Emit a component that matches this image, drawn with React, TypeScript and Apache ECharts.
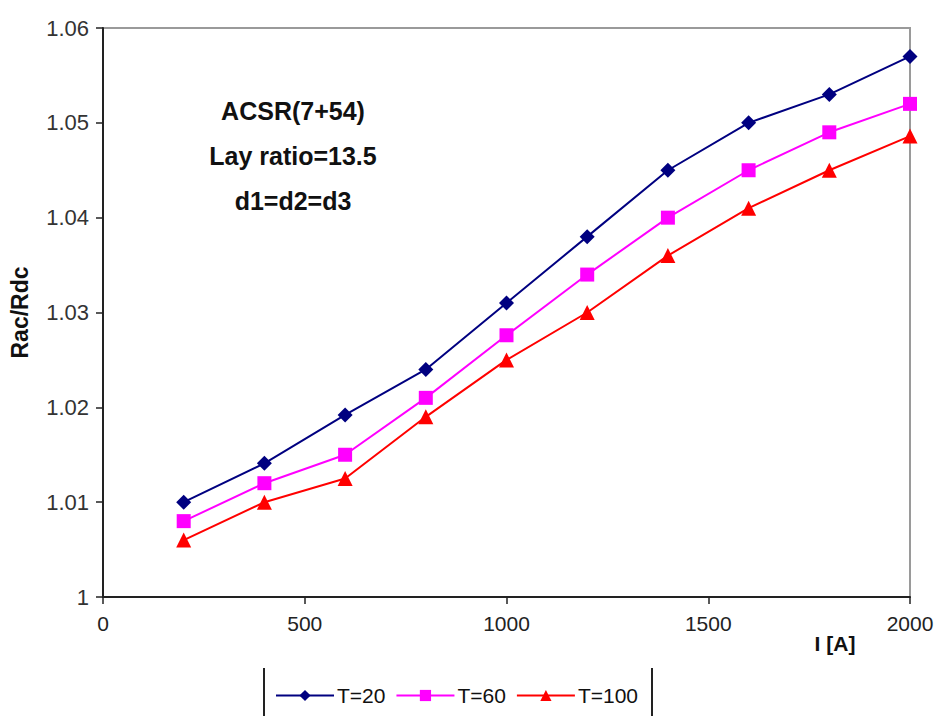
import React, { useEffect, useRef } from "react";
import * as echarts from "echarts";

const currents = [200, 400, 600, 800, 1000, 1200, 1400, 1600, 1800, 2000];
const t20 = [1.010, 1.0141, 1.0192, 1.024, 1.031, 1.038, 1.045, 1.050, 1.053, 1.057];
const t60 = [1.008, 1.012, 1.015, 1.021, 1.0276, 1.034, 1.040, 1.045, 1.049, 1.052];
const t100 = [1.006, 1.010, 1.0125, 1.019, 1.025, 1.030, 1.036, 1.041, 1.045, 1.0486];
const seriesNames = ["T=20", "T=60", "T=100"];
const annotationLines = ["ACSR(7+54)", "Lay ratio=13.5", "d1=d2=d3"];

const sans = "Liberation Sans, Arial, sans-serif";

export default function App() {
  const ref = useRef<HTMLDivElement>(null);
  useEffect(() => {
    if (!ref.current) return;
    const chart = echarts.init(ref.current, null, { renderer: "svg" });
    const mk = (vals: number[]) => currents.map((c, i) => [c, vals[i]]);
    chart.setOption({
      animation: false,
      backgroundColor: "#fff",
      grid: {
        left: 98, right: 28, top: 28, bottom: 119,
        show: true, borderColor: "#9a9a9a", borderWidth: 2, backgroundColor: "transparent",
      },
      xAxis: {
        type: "value", min: 0, max: 2000, interval: 500,
        axisLine: { lineStyle: { color: "#222", width: 2 } },
        axisTick: { show: true, inside: false, length: 7, lineStyle: { color: "#222", width: 1.5 } },
        splitLine: { show: false },
        axisLabel: {
          color: "#222", fontSize: 21, fontFamily: sans, margin: 16,
          formatter: (v: number) => String(v),
        },
        name: "I [A]", nameLocation: "end", nameGap: 0,
        nameTextStyle: {
          fontSize: 21, fontFamily: sans, color: "#111", fontWeight: "bold",
          align: "center", verticalAlign: "top", padding: [36, 150, 0, 0],
        },
      },
      yAxis: {
        type: "value", min: 1, max: 1.06, interval: 0.01,
        axisLine: { show: true, lineStyle: { color: "#222", width: 2 } },
        axisTick: { show: true, inside: false, length: 7, lineStyle: { color: "#222", width: 1.5 } },
        splitLine: { show: false },
        axisLabel: {
          color: "#333", fontSize: 22, fontFamily: sans, margin: 14,
          formatter: (v: number) => String(parseFloat(v.toFixed(2))),
        },
        name: "Rac/Rdc", nameLocation: "middle", nameGap: 72, nameRotate: 90,
        nameTextStyle: { fontSize: 23, fontWeight: "bold", color: "#111", fontFamily: sans },
      },
      legend: {
        left: 270, top: 680, itemWidth: 58, itemHeight: 14, itemGap: 10,
        textStyle: { fontSize: 21, fontFamily: sans, color: "#111", padding: [0, 0, 0, -2] },
        data: seriesNames,
      },
      graphic: [
        { type: "line", shape: { x1: 264, y1: 668, x2: 264, y2: 716 }, style: { stroke: "#222", lineWidth: 2 } },
        { type: "line", shape: { x1: 652, y1: 668, x2: 652, y2: 716 }, style: { stroke: "#222", lineWidth: 2 } },
        {
          type: "text", x: 293, y: 88,
          style: {
            text: annotationLines.join("\n"), fontSize: 25, fontWeight: "bold", lineHeight: 45,
            fontFamily: sans, fill: "#111", align: "center", verticalAlign: "top",
          },
        },
      ],
      series: [
        {
          name: seriesNames[0], type: "line", data: mk(t20), symbol: "diamond", symbolSize: 15,
          itemStyle: { color: "#000080" }, lineStyle: { color: "#000080", width: 2 },
        },
        {
          name: seriesNames[1], type: "line", data: mk(t60), symbol: "rect", symbolSize: 14,
          itemStyle: { color: "#ff00ff" }, lineStyle: { color: "#ff00ff", width: 2 },
        },
        {
          name: seriesNames[2], type: "line", data: mk(t100), symbol: "triangle", symbolSize: 15,
          itemStyle: { color: "#ff0000" }, lineStyle: { color: "#ff0000", width: 2 },
        },
      ],
    });
    return () => chart.dispose();
  }, []);
  return <div ref={ref} style={{ width: 938, height: 716, position: "absolute", left: 0, top: 0 }} />;
}
